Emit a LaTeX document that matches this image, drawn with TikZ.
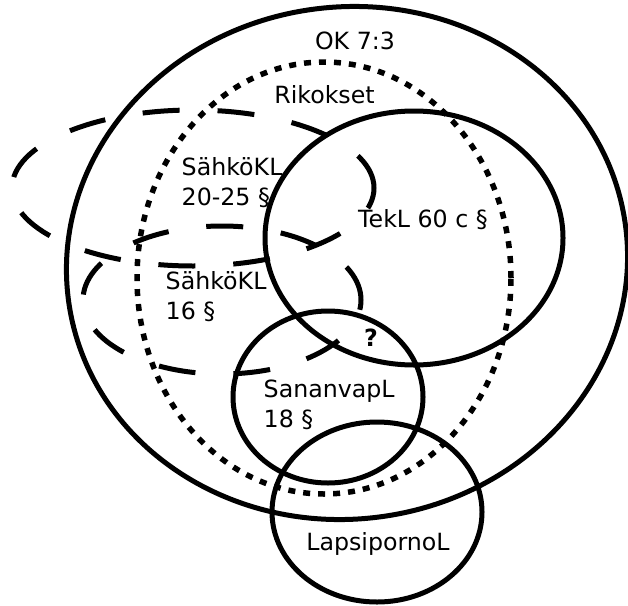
\documentclass[tikz,border=0pt]{standalone}
\usepackage{fontspec}
\setmainfont{DejaVu Sans}
\begin{document}
\begin{tikzpicture}[x=1pt,y=-1pt,
  setline/.style={draw=black,line width=5pt},
  setdotted/.style={setline,line width=5.5pt,dash pattern=on 7pt off 8pt},
  setdashed/.style={setline,dash pattern=on 37pt off 38pt},
  lbl/.style={inner sep=0pt,font=\fontsize{23.7}{29.3}\selectfont,align=left}]
\useasboundingbox (0,0) rectangle (628,605);

% Constitution (outer set)
\draw[setline,rotate around={8:(347,263)}] (347,263) ellipse [x radius=281pt,y radius=256pt];
% Offences
\draw[setdotted] (324,278) ellipse [x radius=187pt,y radius=216pt];
% Information society code
\draw[setline] (414,238) ellipse [x radius=149pt,y radius=127pt];
% Electricity act, two sections
\draw[setdashed] (193,188) ellipse [x radius=181pt,y radius=78pt];
\draw[setdashed] (222,300) ellipse [x radius=139pt,y radius=74pt];
% Freedom of expression act
\draw[setline] (328,397) ellipse [x radius=95pt,y radius=86pt];
% Child pornography act
\draw[setline] (377,512) ellipse [x radius=105pt,y radius=90pt];

% two-line labels are anchored at the baseline of their last line
\node[lbl,anchor=base] (ok) at (355,49) {OK 7:3};
\node[lbl,anchor=base] (rik) at (324.5,103) {Rikokset};
\node[lbl,anchor=base west] (sahko1) at (181.5,205) {SähköKL\\20-25 §};
\node[lbl,anchor=base west] (tekl) at (358,227) {TekL 60 c §};
\node[lbl,anchor=base west] (sahko2) at (165.5,319) {SähköKL\\16 §};
\node[lbl,anchor=base,font=\fontsize{23.7}{29.3}\selectfont\bfseries] (q) at (371,346) {?};
\node[lbl,anchor=base west] (sanvap) at (263.5,427) {SananvapL\\18 §};
\node[lbl,anchor=base] (lapsi) at (378,550) {LapsipornoL};
\end{tikzpicture}
\end{document}
